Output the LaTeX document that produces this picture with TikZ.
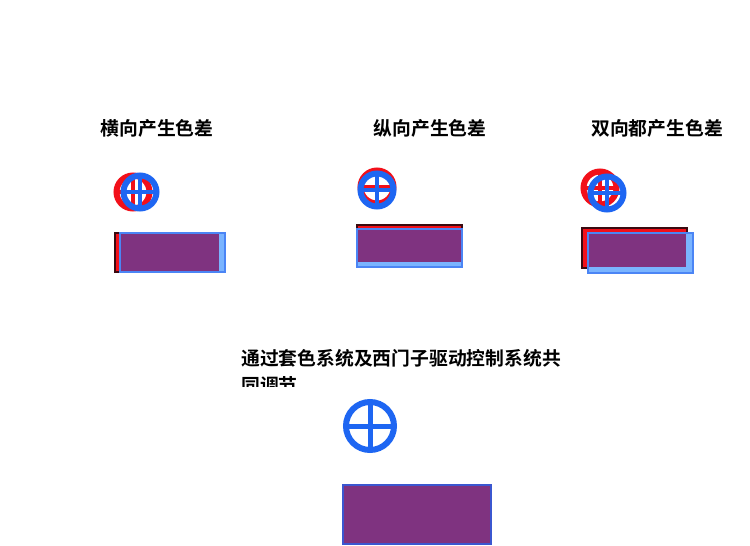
\documentclass[tikz,border=0pt]{standalone}
\usepackage{fontspec}
\newfontfamily\cjk{Noto Sans CJK SC}[BoldFont={Noto Sans CJK SC Bold}]
\definecolor{rr}{HTML}{F2101A}
\definecolor{bb}{HTML}{1E66F2}
\definecolor{lb}{HTML}{7AB4FF}
\definecolor{pp}{HTML}{7F3380}
\definecolor{dr}{HTML}{3A0A10}
\begin{document}
\begin{tikzpicture}[x=1pt,y=-1pt,
  title/.style={font=\cjk\bfseries\fontsize{18.8}{22}\selectfont, inner sep=0pt},
  redbox/.style={fill=rr, draw=dr, line width=1.2pt},
  bluebox/.style={fill=lb, draw=bb!80, line width=1.2pt},
  overlap/.style={fill=pp}]
\useasboundingbox[fill=white] (0,0) rectangle (750,546);
\tikzset{ring/.pic={
  \draw[line width=6pt, color=\pgfkeysvalueof{/tikz/ringcol}] (0,0) circle (16.5);
  \draw[line width=4.5pt, color=\pgfkeysvalueof{/tikz/ringcol}] (-16.5,0) -- (16.5,0) (0,-16.5) -- (0,16.5);
}, ringcol/.initial=bb}

% Panel 1
\node[title] (t1) at (157,128) {横向产生色差};
\pic[ringcol=rr] at (133,192) {ring};
\pic[ringcol=bb] at (140,192) {ring};
\draw[redbox] (115,233) rectangle (220,272);
\draw[bluebox] (120,233) rectangle (225,272);
\fill[overlap] (120.6,233.6) rectangle (219.4,271.4);

% Panel 2
\node[title] (t2) at (430,128) {纵向产生色差};
\pic[ringcol=rr] at (377,187) {ring};
\pic[ringcol=bb] at (377,190) {ring};
\draw[redbox] (357,225) rectangle (462,263);
\draw[bluebox] (357,229) rectangle (462,267);
\fill[overlap] (357.6,229.6) rectangle (461.4,262.4);

% Panel 3
\node[title] (t3) at (657,128) {双向都产生色差};
\pic[ringcol=rr] at (600,188) {ring};
\pic[ringcol=bb] at (607,193) {ring};
\draw[redbox] (582,228) rectangle (687,268);
\draw[bluebox] (588,233) rectangle (693,273);
\fill[overlap] (588.6,233.6) rectangle (686.4,267.4);

% Bottom
\node[title, anchor=west] (t4) at (241,358) {通过套色系统及西门子驱动控制系统共};
\begin{scope}
\clip (230,370) rectangle (330,386);
\node[title, anchor=west] (t5) at (241,385) {同调节};
\end{scope}
\draw[line width=6pt, bb] (370,426) circle (24);
\draw[line width=5pt, bb] (346,426) -- (394,426) (370,402) -- (370,450);
\draw[fill=pp, draw=bb!70!pp, line width=1.2pt] (343,485) rectangle (491,544);
\end{tikzpicture}
\end{document}
